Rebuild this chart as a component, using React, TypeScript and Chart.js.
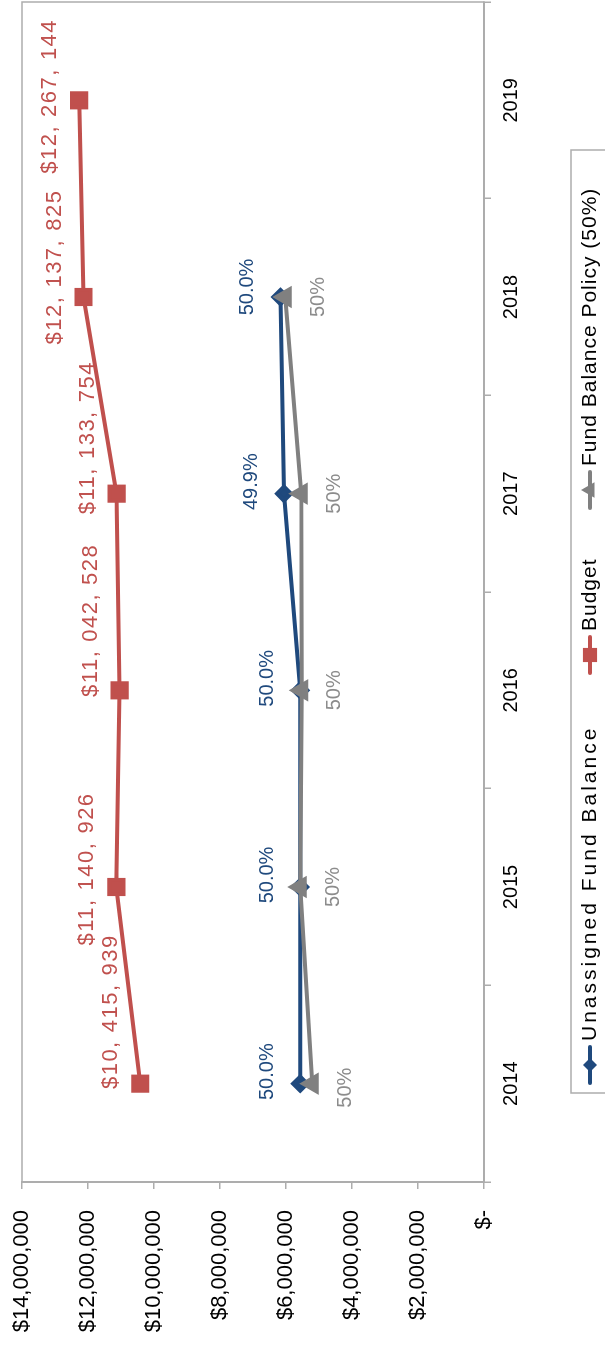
import React, { useEffect, useRef } from "react";
import { Chart, registerables } from "chart.js";

Chart.register(...registerables);

// Fiscal years on the category axis
const years = ["2014", "2015", "2016", "2017", "2018", "2019"];

// Series values (dollars)
const unassignedFundBalance = [5570000, 5570000, 5565000, 6060000, 6170000, null];
const budget = [10415939, 11140926, 11042528, 11133754, 12137825, 12267144];
const fundBalancePolicy = [5207970, 5570463, 5521264, 5540000, 6020000, null];

// Point labels
const unassignedLabels = ["50.0%", "50.0%", "50.0%", "49.9%", "50.0%", ""];
const policyLabels = ["50%", "50%", "50%", "50%", "50%", ""];
const budgetLabels = budget.map((v) => "$" + v.toLocaleString("en-US"));

// Value axis
const valueMin = 0;
const valueMax = 14000000;
const valueStep = 2000000;

const W = 1346;
const H = 605;
const FONT = "'Liberation Sans', Arial, sans-serif";

const BLUE = "#1F497D";
const RED = "#C0504D";
const GRAY = "#808080";
const GRAY_TEXT = "#8C8C8C";
const AXIS = "#ADADAD";

type LabelSpec = {
  texts: string[];
  color: string;
  size: number;
  spacing: number;
  commaGap: number;
  dx: number[];
  dy: number;
};

// Label placement: dx per point (some labels were nudged sideways), dy above/below the point
const labelSpecs: Record<number, LabelSpec> = {
  0: { texts: unassignedLabels, color: BLUE, size: 20, spacing: 0, commaGap: 0, dx: [12, 12, 12, 12, 10, 0], dy: -33 },
  1: { texts: budgetLabels, color: RED, size: 22, spacing: 1.5, commaGap: 8, dx: [72, 18, 70, 56, 30, 4], dy: -29 },
  2: { texts: policyLabels, color: GRAY_TEXT, size: 20, spacing: 0, commaGap: 0, dx: [-4, 0, 0, 0, 0, 0], dy: 33 },
};

// Draws a label centred on (cx, cy); number groups get a little extra room after each comma
function drawSpacedLabel(ctx: CanvasRenderingContext2D, text: string, cx: number, cy: number, commaGap: number) {
  const parts = commaGap > 0 ? text.split(/(?<=,)/) : [text];
  const widths = parts.map((p) => ctx.measureText(p).width);
  const total = widths.reduce((a, b) => a + b, 0) + commaGap * (parts.length - 1);
  let x = cx - total / 2;
  ctx.textAlign = "left";
  parts.forEach((p, k) => {
    ctx.fillText(p, x, cy);
    x += widths[k] + commaGap;
  });
}

const pointLabelPlugin = {
  id: "pointLabels",
  afterDatasetsDraw(chart: any) {
    const ctx = chart.ctx;
    chart.data.datasets.forEach((_ds: any, i: number) => {
      const spec = labelSpecs[i];
      if (!spec) return;
      const meta = chart.getDatasetMeta(i);
      ctx.save();
      ctx.font = `${spec.size}px ${FONT}`;
      (ctx as any).letterSpacing = `${spec.spacing}px`;
      ctx.textBaseline = "middle";
      ctx.fillStyle = spec.color;
      meta.data.forEach((pt: any, j: number) => {
        const t = spec.texts[j];
        if (!t || pt.skip) return;
        drawSpacedLabel(ctx, t, pt.x + spec.dx[j], pt.y + spec.dy, spec.commaGap);
      });
      ctx.restore();
    });
  },
};

const framePlugin = {
  id: "plotFrame",
  beforeDatasetsDraw(chart: any) {
    const { ctx, chartArea } = chart;
    ctx.save();
    ctx.strokeStyle = AXIS;
    ctx.lineWidth = 1.5;
    ctx.strokeRect(chartArea.left, chartArea.top, chartArea.right - chartArea.left, chartArea.bottom - chartArea.top);
    ctx.restore();
  },
};

// Legend marker shapes, same geometry as the library's point styles
function drawMarker(ctx: CanvasRenderingContext2D, style: string, r: number, x: number, y: number) {
  ctx.beginPath();
  if (style === "rect") {
    const s = Math.SQRT1_2 * r;
    ctx.rect(x - s, y - s, 2 * s, 2 * s);
  } else if (style === "rectRot") {
    ctx.moveTo(x, y - r);
    ctx.lineTo(x + r, y);
    ctx.lineTo(x, y + r);
    ctx.lineTo(x - r, y);
    ctx.closePath();
  } else if (style === "triangle") {
    for (let k = 0; k < 3; k++) {
      const a = (k * 2 * Math.PI) / 3;
      const px = x + Math.sin(a) * r;
      const py = y - Math.cos(a) * r;
      if (k === 0) ctx.moveTo(px, py);
      else ctx.lineTo(px, py);
    }
    ctx.closePath();
  }
  ctx.fill();
}

// Legend box and entry positions (marker centres)
const legendBox = { left: 253, right: 1196, top: 571 };
const legendMarkerX = [281, 691, 856];
const legendTextSpacing = [3, 1, 1];

const legendPlugin = {
  id: "boxLegend",
  afterDraw(chart: any) {
    const ctx = chart.ctx;
    const midY = 590;
    ctx.save();
    ctx.strokeStyle = AXIS;
    ctx.lineWidth = 1.5;
    ctx.strokeRect(legendBox.left, legendBox.top, legendBox.right - legendBox.left, H - legendBox.top + 10);
    ctx.font = `21px ${FONT}`;
    ctx.textBaseline = "middle";
    ctx.textAlign = "left";
    chart.data.datasets.forEach((d: any, i: number) => {
      const cx = legendMarkerX[i];
      ctx.strokeStyle = d.borderColor;
      ctx.lineWidth = d.borderWidth;
      ctx.lineCap = "round";
      ctx.beginPath();
      ctx.moveTo(cx - 18, midY);
      ctx.lineTo(cx + 18, midY);
      ctx.stroke();
      ctx.fillStyle = d.pointBackgroundColor;
      drawMarker(ctx, d.pointStyle, d.pointRadius, cx, midY);
      ctx.fillStyle = "#000";
      (ctx as any).letterSpacing = `${legendTextSpacing[i]}px`;
      ctx.fillText(d.label, cx + 24, midY);
    });
    ctx.restore();
  },
};

function formatValueTick(v: number) {
  if (v === 0) return "$-";
  return "$" + v.toLocaleString("en-US");
}

export default function App() {
  const ref = useRef<HTMLCanvasElement>(null);

  useEffect(() => {
    const canvas = ref.current;
    if (!canvas) return;
    const chart = new Chart(canvas, {
      type: "line",
      data: {
        labels: years,
        datasets: [
          {
            label: "Unassigned Fund Balance",
            data: unassignedFundBalance,
            borderColor: BLUE,
            backgroundColor: BLUE,
            pointBackgroundColor: BLUE,
            pointBorderColor: BLUE,
            borderWidth: 4,
            pointStyle: "rectRot",
            pointRadius: 7,
            tension: 0,
            order: 2,
          },
          {
            label: "Budget",
            data: budget,
            borderColor: RED,
            backgroundColor: RED,
            pointBackgroundColor: RED,
            pointBorderColor: RED,
            borderWidth: 4,
            pointStyle: "rect",
            pointRadius: 10,
            tension: 0,
            order: 1,
          },
          {
            label: "Fund Balance Policy (50%)",
            data: fundBalancePolicy,
            borderColor: GRAY,
            backgroundColor: GRAY,
            pointBackgroundColor: GRAY,
            pointBorderColor: GRAY,
            borderWidth: 4,
            pointStyle: "triangle",
            pointRadius: 9,
            tension: 0,
            order: 0,
          },
        ],
      } as any,
      options: {
        responsive: false,
        animation: false,
        devicePixelRatio: 1,
        layout: { autoPadding: false, padding: { top: 22, right: 2, bottom: 61, left: 0 } },
        plugins: {
          legend: { display: false },
          tooltip: { enabled: false },
        },
        scales: {
          x: {
            type: "category",
            offset: true,
            grid: {
              display: true,
              offset: true,
              drawOnChartArea: false,
              drawTicks: true,
              tickLength: 7,
              color: AXIS,
              lineWidth: 1.5,
            },
            border: { display: true, color: AXIS, width: 2 },
            ticks: {
              color: "#000",
              font: { family: FONT, size: 20 },
              padding: 8,
              maxRotation: 0,
              autoSkip: false,
            },
            afterFit: (s: any) => {
              s.height = 60;
              s.paddingLeft = 0;
              s.paddingRight = 0;
              s.paddingTop = 0;
              s.paddingBottom = 0;
            },
          },
          y: {
            min: valueMin,
            max: valueMax,
            grid: {
              drawOnChartArea: false,
              drawTicks: true,
              tickLength: 7,
              color: AXIS,
              lineWidth: 1.5,
            },
            border: { display: true, color: AXIS, width: 2 },
            ticks: {
              stepSize: valueStep,
              color: "#000",
              font: { family: FONT, size: 22 },
              padding: 21,
              callback: (v: any) => formatValueTick(Number(v)),
            },
            afterFit: (s: any) => {
              s.width = 164;
              s.paddingLeft = 0;
              s.paddingRight = 0;
              s.paddingTop = 0;
              s.paddingBottom = 0;
            },
          },
        },
      } as any,
      plugins: [framePlugin, pointLabelPlugin, legendPlugin],
    });
    return () => chart.destroy();
  }, []);

  return (
    <div
      style={{
        position: "fixed",
        left: 0,
        top: 0,
        width: H,
        height: W,
        overflow: "hidden",
        background: "#fff",
      }}
    >
      <div
        style={{
          position: "absolute",
          left: 0,
          top: 0,
          width: W,
          height: H,
          transformOrigin: "0 0",
          transform: `translateY(${W}px) rotate(-90deg)`,
        }}
      >
        <canvas ref={ref} width={W} height={H} style={{ display: "block", width: W, height: H }} />
      </div>
    </div>
  );
}
